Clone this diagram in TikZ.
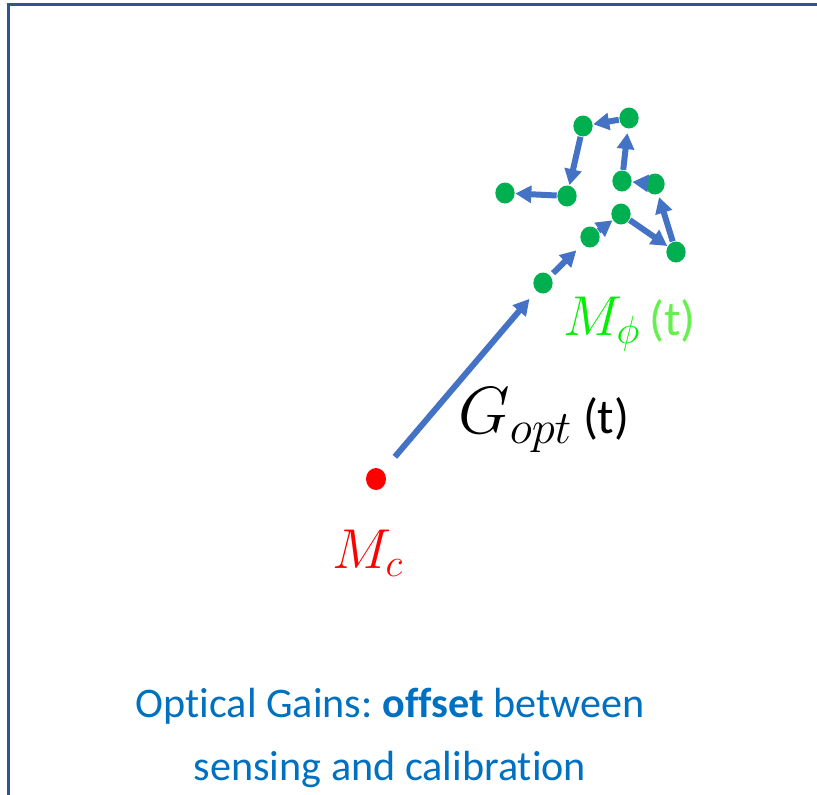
\RequirePackage{fix-cm}
\documentclass[tikz,border=0pt]{standalone}
\usepackage{amsmath}
\usepackage{fontspec}
\setmainfont{Carlito}[Ligatures=NoCommon]
\usetikzlibrary{arrows.meta,shapes.geometric}

\definecolor{arrowblue}{HTML}{4472C4}
\definecolor{dotgreen}{HTML}{00B050}
\definecolor{capblue}{HTML}{0070C0}
\definecolor{frameblue}{HTML}{2F5597}
\definecolor{phigreen}{HTML}{00F000}
\definecolor{tgreen}{HTML}{66F050}
\newcommand{\tsize}{\fontsize{42}{44}\selectfont}
\frenchspacing

\begin{document}
\begin{tikzpicture}[x=0.3mm, y=-0.3mm,
  gdot/.style={ellipse, fill=dotgreen, minimum width=5.8mm, minimum height=6.3mm, inner sep=0pt, outer sep=0.2mm},
  rdot/.style={ellipse, fill=red, minimum width=6mm, minimum height=6.6mm, inner sep=0pt},
  flow/.style={draw=arrowblue, line width=1.8mm, -{Triangle[length=4.8mm, width=5mm]}, fill=arrowblue},
  mathlbl/.style={anchor=base west, inner sep=0pt, font=\fontsize{48}{50}\selectfont}]
\useasboundingbox (0,0) rectangle (817,795);
\draw[frameblue, line width=0.9mm] (8.5,795) -- (8.5,4) -- (817,4);

\node[rdot] (Mc) at (376,479) {};

\node[gdot] (P1) at (543,283) {};
\node[gdot] (P2) at (590,237) {};
\node[gdot] (P3) at (621,214) {};
\node[gdot] (P4) at (676,252) {};
\node[gdot] (P5) at (655,184) {};
\node[gdot] (P6) at (622,181) {};
\node[gdot] (P7) at (629,118) {};
\node[gdot] (P8) at (583,126) {};
\node[gdot] (P9) at (567,196) {};
\node[gdot] (P10) at (505,193) {};

\draw[flow, shorten <=5.5mm, shorten >=3mm] (Mc) -- (P1);
\draw[flow, shorten <=1mm, shorten >=2.5mm] (P1) -- (P2);
\draw[flow] (P2) -- (P3);
\draw[flow] (P3) -- (P4);
\draw[flow, shorten >=0.8mm] (P4) -- (P5);
\draw[flow] (P5) -- (P6);
\draw[flow, shorten >=1.2mm] (P6) -- (P7);
\draw[flow] (P7) -- (P8);
\draw[flow] (P8) -- (P9);
\draw[flow] (P9) -- (P10);

\node[mathlbl, text=phigreen] (Mphi) at (563,335) {$M_\phi$\,{\tsize\color{tgreen}(t)}};
\node[mathlbl, font=\fontsize{57}{60}\selectfont] (Gopt) at (458,433) {$G_{opt}$\,{\tsize(t)}};
\node[mathlbl, text=red] (Mclbl) at (332,568) {$M_c$};

\node[anchor=base, align=center, text=capblue, font=\fontsize{36}{53}\selectfont] (cap) at (390,780)
  {Optical Gains: \textbf{offset} between\\ sensing and calibration};
\end{tikzpicture}
\end{document}
